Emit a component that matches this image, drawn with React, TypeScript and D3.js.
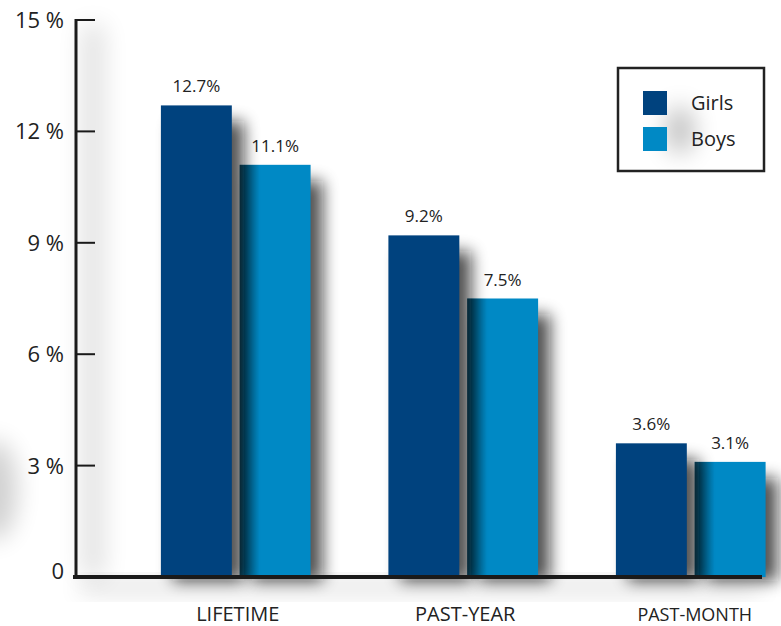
import React from "react";
import * as d3 from "d3";

const categories = ["LIFETIME", "PAST-YEAR", "PAST-MONTH"];
const seriesNames = ["Girls", "Boys"];
const girls = [12.7, 9.2, 3.6];
const boys = [11.1, 7.5, 3.1];
const valueLabels = [["12.7%", "11.1%"], ["9.2%", "7.5%"], ["3.6%", "3.1%"]];
const yTicks = [0, 3, 6, 9, 12, 15];
const yTickLabels = ["0", "3 %", "6 %", "9 %", "12 %", "15 %"];
const colors = ["#00427e", "#0089c5"];

const W = 781, H = 626;
const FONT = "'Open Sans', 'Noto Sans', sans-serif";

export default function App() {
  const y = d3.scaleLinear().domain([0, 15]).range([577, 20]);
  const x0 = d3.scaleBand<string>().domain(categories).range([122, 804.5]).paddingInner(0.342).paddingOuter(0.171);
  const x1 = d3.scaleBand<string>().domain(seriesNames).range([0, x0.bandwidth()]).paddingInner(0.1);
  const values = [girls, boys];
  const x0Axis = 75;

  return (
    <svg width={W} height={H} style={{ display: "block", position: "absolute", left: 0, top: 0, background: "#fff" }}>
      <defs>
        <filter id="blur" x="-50%" y="-50%" width="200%" height="200%">
          <feGaussianBlur stdDeviation="8" />
        </filter>
        <filter id="blurBig" x="-100%" y="-100%" width="300%" height="300%">
          <feGaussianBlur stdDeviation="12" />
        </filter>
        <linearGradient id="edge" x1="0" x2="1" y1="0" y2="0">
          <stop offset="0" stopColor="#000" stopOpacity={0.55} />
          <stop offset="0.28" stopColor="#000" stopOpacity={0} />
        </linearGradient>
      </defs>
      <rect width={W} height={H} fill="#fff" />
      {/* ambient shadows */}
      <rect x={82} y={25} width={22} height={552} fill="#000" opacity={0.12} filter="url(#blurBig)" />
      <ellipse cx={-5} cy={490} rx={22} ry={50} fill="#000" opacity={0.18} filter="url(#blurBig)" />
      <rect x={80} y={582} width={680} height={10} fill="#000" opacity={0.18} filter="url(#blurBig)" />

      {/* legend box */}
      <g>
        <rect x={618} y={68} width={146} height={103} fill="#fff" />
        <ellipse cx={680} cy={130} rx={14} ry={24} fill="#000" opacity={0.25} filter="url(#blurBig)" />
        <rect x={618} y={68} width={146} height={103} fill="none" stroke="#222" strokeWidth={2.5} />
        {seriesNames.map((s, i) => (
          <g key={s}>
            <rect x={643} y={91 + i * 36} width={24} height={24} fill={colors[i]} />
            <text x={691} y={103 + i * 36} dy="0.36em" fontFamily={FONT} fontSize={20} fill="#222">{s}</text>
          </g>
        ))}
      </g>

      {/* bars */}
      {categories.map((c, ci) => {
        const order = [1, 0];
        return (
          <g key={c} transform={`translate(${x0(c)},0)`}>
            {order.map((si) => {
              const s = seriesNames[si];
              const v = values[si][ci];
              const bx = x1(s)!;
              const bw = x1.bandwidth();
              return (
                <g key={s}>
                  <rect x={bx + 12} y={y(v) + 16} width={bw} height={577 - y(v) - 12} fill="#111" opacity={0.72} filter="url(#blur)" />
                  <rect x={bx} y={y(v)} width={bw} height={577 - y(v)} fill={colors[si]} />
                  {si === 1 && <rect x={bx} y={y(v)} width={bw} height={577 - y(v)} fill="url(#edge)" />}
                  <text x={bx + bw / 2} y={y(v) - 13} textAnchor="middle" fontFamily={FONT} fontSize={17} fill="#222">{valueLabels[ci][si]}</text>
                </g>
              );
            })}
          </g>
        );
      })}

      {/* y axis */}
      <line x1={x0Axis + 1} x2={x0Axis + 1} y1={19} y2={579} stroke="#1a1a1a" strokeWidth={3} />
      {yTicks.map((t, i) => (
        <g key={t}>
          {t > 0 && <line x1={x0Axis} x2={95} y1={y(t)} y2={y(t)} stroke="#1a1a1a" strokeWidth={2} />}
          <text x={64} y={y(t) + (t === 0 ? -6 : 0)} dy="0.36em" textAnchor="end" fontFamily={FONT} fontSize={22} fill="#222">{yTickLabels[i]}</text>
        </g>
      ))}
      {/* x axis */}
      <line x1={73} x2={762} y1={577} y2={577} stroke="#1a1a1a" strokeWidth={4} />
      {categories.map((c, ci) => (
        <text key={c} x={x0(c)! + x0.bandwidth() / 2 + (ci === 2 ? 4 : 2)} y={621} textAnchor="middle" fontFamily={FONT} fontSize={ci === 2 ? 18 : 20} fill="#222">{c}</text>
      ))}
    </svg>
  );
}
